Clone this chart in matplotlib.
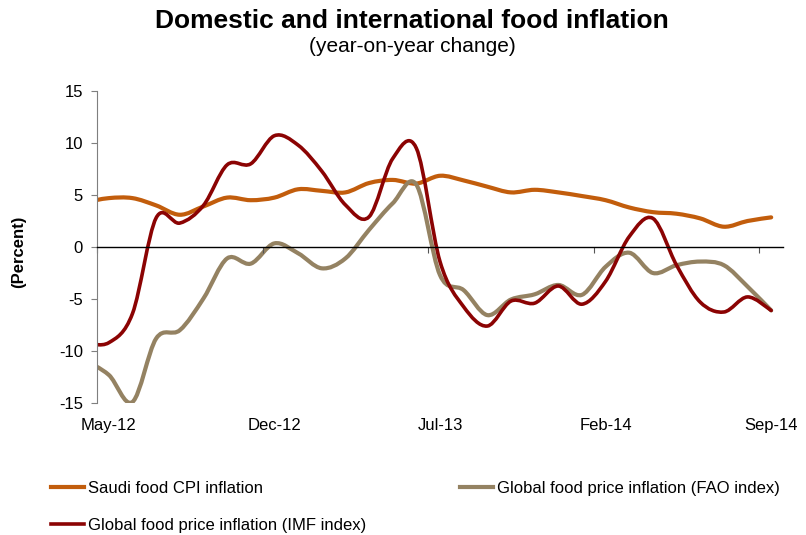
import numpy as np
import matplotlib
matplotlib.use("Agg")
import matplotlib.pyplot as plt
from matplotlib.path import Path
from matplotlib.patches import PathPatch
from matplotlib.lines import Line2D

plt.rcParams['font.family'] = ['Liberation Sans', 'DejaVu Sans']
plt.rcParams['axes.unicode_minus'] = False

# monthly; Apr-12 sits just left of the axis and is clipped
months = ['Apr-12', 'May-12', 'Jun-12', 'Jul-12', 'Aug-12', 'Sep-12', 'Oct-12',
          'Nov-12', 'Dec-12', 'Jan-13', 'Feb-13', 'Mar-13', 'Apr-13', 'May-13',
          'Jun-13', 'Jul-13', 'Aug-13', 'Sep-13', 'Oct-13', 'Nov-13', 'Dec-13',
          'Jan-14', 'Feb-14', 'Mar-14', 'Apr-14', 'May-14', 'Jun-14', 'Jul-14',
          'Aug-14', 'Sep-14']

saudi_cpi = [4.3, 4.7, 4.7, 4.0, 3.1, 3.9, 4.75, 4.5, 4.75, 5.55, 5.4, 5.25, 6.15,
             6.45, 6.1, 6.85, 6.4, 5.8, 5.25, 5.5, 5.25, 4.9, 4.5, 3.8, 3.35, 3.2,
             2.75, 1.95, 2.5, 2.85]
fao = [-10.9, -12.3, -14.9, -8.8, -8.0, -4.95, -1.1, -1.6, 0.35, -0.6, -2.05,
       -1.1, 1.65, 4.2, 6.0, -2.7, -4.15, -6.55, -5.05, -4.55, -3.65, -4.6, -1.9,
       -0.55, -2.5, -1.75, -1.4, -1.75, -3.8, -6.1]
imf = [-9.2, -9.2, -6.4, 2.8, 2.3, 4.0, 7.9, 8.0, 10.7, 9.8, 7.3, 4.05, 2.9, 8.5,
       9.5, -1.4, -5.75, -7.6, -5.2, -5.4, -3.75, -5.5, -3.3, 1.0, 2.75, -1.75,
       -5.3, -6.25, -4.8, -6.1]

series = [
    ('Saudi food CPI inflation', saudi_cpi, '#C25D0C', 3.0),
    ('Global food price inflation (FAO index)', fao, '#948262', 3.0),
    ('Global food price inflation (IMF index)', imf, '#8B0303', 2.6),
]

label_months = months[1::7]


def smooth_path(x, y):
    # cardinal spline through every point, as cubic bezier segments
    n = len(x)
    verts = [(x[0], y[0])]
    codes = [Path.MOVETO]
    for i in range(n - 1):
        a = max(i - 1, 0)
        b = min(i + 2, n - 1)
        c1 = (x[i] + (x[i + 1] - x[a]) / 6, y[i] + (y[i + 1] - y[a]) / 6)
        c2 = (x[i + 1] - (x[b] - x[i]) / 6, y[i + 1] - (y[b] - y[i]) / 6)
        verts += [c1, c2, (x[i + 1], y[i + 1])]
        codes += [Path.CURVE4] * 3
    return Path(verts, codes)


fig = plt.figure(figsize=(8.06, 5.35), dpi=100)
ax = fig.add_axes([97 / 806, 1 - 403 / 535, 686 / 806, 312 / 535])

# each month is one category slot, point in the middle of its slot
x = np.arange(len(months)) - 0.5
handles = {}
for name, vals, color, lw in series:
    patch = PathPatch(smooth_path(x, np.array(vals, dtype=float)), fill=False,
                      edgecolor=color, linewidth=lw, capstyle='round',
                      joinstyle='round')
    ax.add_patch(patch)
    handles[name] = Line2D([], [], color=color, linewidth=lw)

ax.set_xlim(0, len(months) - 1)
ax.set_ylim(-15, 15)
ax.set_yticks(np.arange(-15, 16, 5))

for s in ['top', 'right']:
    ax.spines[s].set_visible(False)
ax.spines['left'].set_color('#7f7f7f')
ax.spines['bottom'].set_position(('data', 0))
ax.spines['bottom'].set_color('black')
ax.spines['bottom'].set_linewidth(1.0)

tick_pos = np.arange(0, len(months) - 1, 7)
ax.set_xticks(tick_pos)
ax.set_xticklabels([])
ax.tick_params(axis='x', direction='out', length=4, color='#555555')
ax.tick_params(axis='y', direction='out', length=4, color='#7f7f7f',
               labelsize=12, pad=6)

lab = ax.secondary_xaxis('bottom')
lab.set_xticks(tick_pos + 0.5, label_months)
lab.tick_params(length=0, labelsize=12, pad=11)
lab.spines['bottom'].set_visible(False)

fig.text(412 / 806, 1 - 21 / 535, 'Domestic and international food inflation',
         ha='center', va='center', fontsize=19, fontweight='bold')
fig.text(412 / 806, 1 - 47 / 535, '(year-on-year change)', ha='center',
         va='center', fontsize=15)
fig.text(19 / 806, 1 - 252 / 535, '(Percent)', rotation=90, ha='center',
         va='center', fontsize=12, fontweight='bold')

order = [series[0][0], series[2][0], series[1][0]]
fig.legend([handles[k] for k in order], order, ncol=2, loc='upper left',
           bbox_to_anchor=(51 / 806, 1 - 481 / 535), frameon=False,
           fontsize=12, handlelength=2.0, handletextpad=0.2,
           columnspacing=5.65, labelspacing=1.3, borderpad=0,
           borderaxespad=0)

fig.savefig('out.png', dpi=100)
